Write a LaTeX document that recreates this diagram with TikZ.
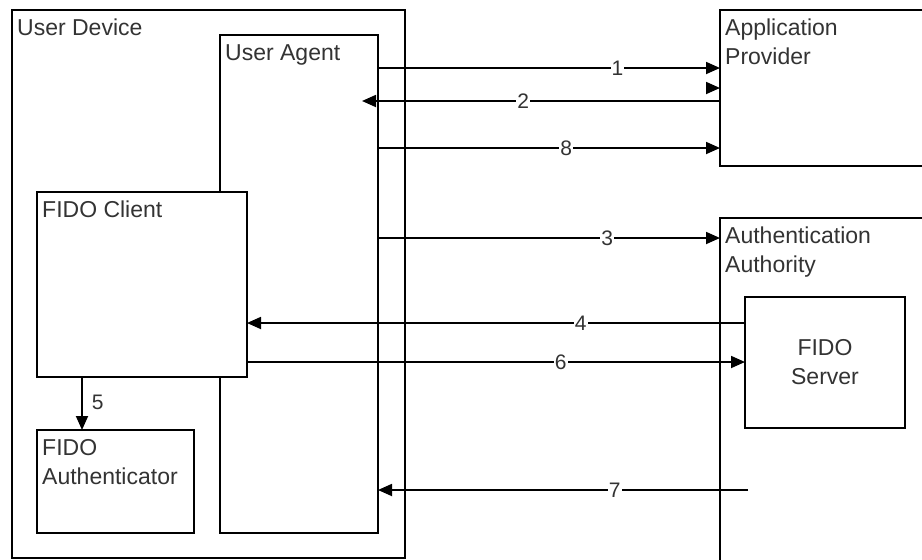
\documentclass[tikz,border=0pt]{standalone}
\usepackage{fontspec}
\setmainfont{Liberation Sans}
\usetikzlibrary{arrows.meta}
\definecolor{txtgray}{HTML}{333333}
\tikzset{
  box/.style={draw, line width=1.8pt, fill=white, rectangle, anchor=north west, outer sep=0pt, inner sep=0pt},
  boxlbl/.style={anchor=north west, inner xsep=5pt, inner ysep=9pt, align=left, text=txtgray, font=\fontsize{23}{29}\selectfont},
  msg/.style={line width=1.8pt, -{Triangle[length=14pt,width=12pt]}},
  num/.style={fill=white, inner sep=1pt, text=txtgray, font=\fontsize{21}{25}\selectfont},
}
\begin{document}
\begin{tikzpicture}[x=1pt,y=-1pt]
  \clip (0,0) rectangle (922,560);
  \fill[white] (0,0) rectangle (922,560);
  % boxes
  \node[box, minimum width=393, minimum height=548, label={[boxlbl]north west:User Device}] (ud) at (12,10) {};
  \node[box, minimum width=158, minimum height=498, label={[boxlbl]north west:User Agent}] (ua) at (220,35) {};
  \node[box, minimum width=210, minimum height=185, label={[boxlbl]north west:FIDO Client}] (fc) at (37,192) {};
  \node[box, minimum width=157, minimum height=103, label={[boxlbl]north west:FIDO\\Authenticator}] (fa) at (37,430) {};
  \node[box, minimum width=230, minimum height=156, label={[boxlbl]north west:Application\\Provider}] (ap) at (720,10) {};
  \node[box, minimum width=230, minimum height=380, label={[boxlbl]north west:Authentication\\Authority}] (aa) at (720,218) {};
  \node[box, minimum width=160, minimum height=131, align=center, text=txtgray,
        font=\fontsize{23}{29}\selectfont] (fs) at (745,297) {FIDO\\Server};
  % messages
  \foreach \yy/\t/\p in {68/1/.70, 148/8/.55, 238/3/.67} {
    \draw[msg] (ua.east |- 0,\yy) -- (ap.west |- 0,\yy) node[num, pos=\p] {\t};
  };
  \coordinate (tip2) at (362,101);
  \draw[msg] (ap.west |- tip2) -- (tip2) node[num, pos=.55] {2};
  \coordinate (stub) at (706,88);
  \draw[msg] (stub) -- (ap.west |- stub);
  \draw[msg] (fs.west |- 0,323) -- (fc.east |- 0,323) node[num, pos=.33] {4};
  \draw[msg] (fc.east |- 0,362) -- (fs.west |- 0,362) node[num, pos=.63] {6};
  \coordinate (src7) at (748,490);
  \draw[msg] (src7) -- (ua.east |- src7) node[num, pos=.36] {7};
  \coordinate (x5) at (82,0);
  \draw[msg] (fc.south -| x5) -- (fa.north -| x5) node[num, fill=none, midway, anchor=west, xshift=8pt, yshift=1pt] {5};
\end{tikzpicture}
\end{document}
